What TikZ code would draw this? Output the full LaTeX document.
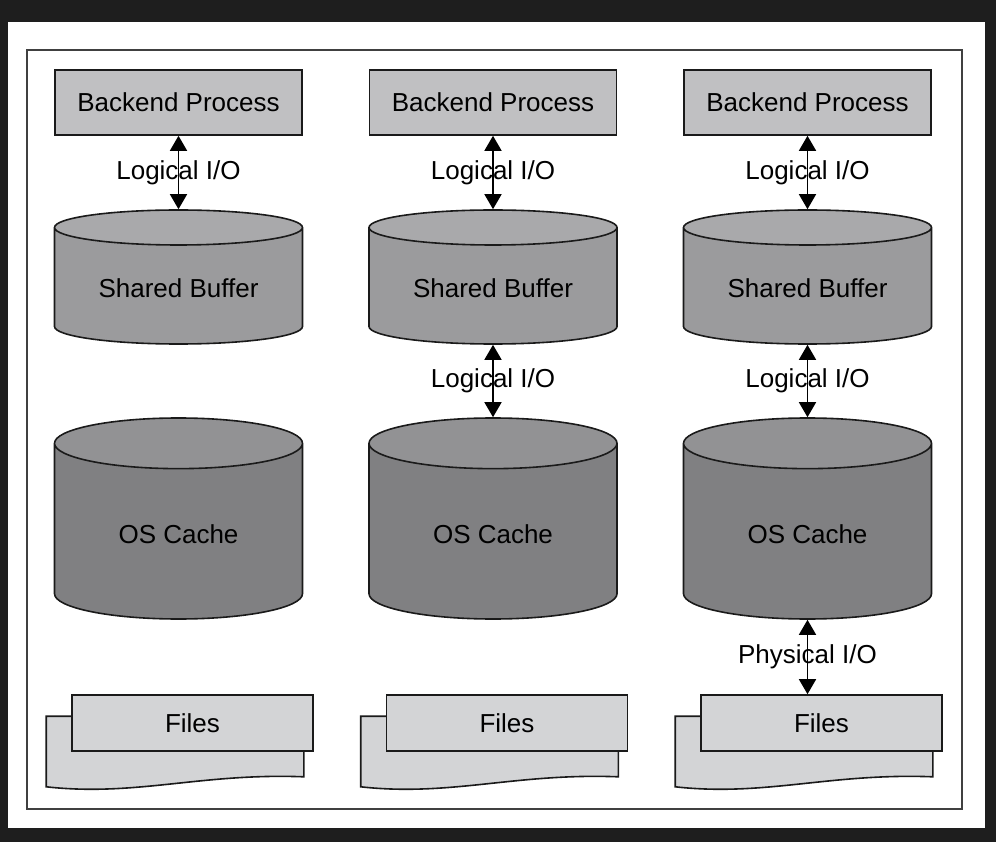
\documentclass[tikz,border=0pt]{standalone}
\usepackage{fontspec}
\setmainfont{Liberation Sans}
\usetikzlibrary{shapes.geometric,arrows.meta,backgrounds}

\definecolor{darkbg}{HTML}{1E1E1E}
\definecolor{linegray}{HTML}{1A1A1A}
\definecolor{procfill}{HTML}{C0C0C2}
\definecolor{buffill}{HTML}{9B9B9D}
\definecolor{buftop}{HTML}{A9A9AB}
\definecolor{cachefill}{HTML}{808082}
\definecolor{cachetop}{HTML}{929294}
\definecolor{filefill}{HTML}{D3D4D6}

\begin{document}
\begin{tikzpicture}[x=1pt, y=-1pt, >={Triangle[width=17pt,length=15pt]},
    font=\fontsize{26}{30}\selectfont,
    proc/.style = {draw=linegray, line width=1.6pt, fill=procfill, minimum width=247pt, minimum height=65pt},
    buf/.style = {draw=linegray, line width=1.6pt, cylinder, shape border rotate=90, aspect=0.21,
      cylinder uses custom fill, cylinder body fill=buffill, cylinder end fill=buftop,
      minimum width=248pt, minimum height=134pt, anchor=shape center},
    cache/.style = {buf, aspect=0.4, cylinder body fill=cachefill, cylinder end fill=cachetop, minimum height=201pt},
    file/.style = {draw=linegray, line width=1.6pt, fill=filefill, minimum width=241pt, minimum height=56pt},
    sheet/.style = {draw=linegray, line width=1.6pt, fill=filefill},
    io/.style = {<->, black, line width=1.6pt}]

  \begin{pgfonlayer}{background}
    \fill[darkbg] (0,0) rectangle (996,842);
    \fill[white] (8,22) rectangle (985,828);
    \draw[black!75, line width=1.4pt] (27,50) rectangle (962,809);
  \end{pgfonlayer}

  % left column
  \node[proc] (bp1) at (178.5,102.5) {Backend Process};
  \node[buf] (sb1) at (178.5,277) {Shared Buffer};
  \node[cache] (oc1) at (178.5,518.5) {OS Cache};
  \node[file] (f1) at (192.5,723) {Files};
  \draw[io] (bp1.south) -- node (lio1) {Logical I/O} (sb1.north);

  % middle column
  \node[proc] (bp2) at (493,102.5) {Backend Process};
  \node[buf] (sb2) at (493,277) {Shared Buffer};
  \node[cache] (oc2) at (493,518.5) {OS Cache};
  \node[file] (f2) at (507,723) {Files};
  \draw[io] (bp2.south) -- node (lio2) {Logical I/O} (sb2.north);
  \draw[io] (sb2.south) -- node (lio3) {Logical I/O} (oc2.north);

  % right column
  \node[proc] (bp3) at (807.5,102.5) {Backend Process};
  \node[buf] (sb3) at (807.5,277) {Shared Buffer};
  \node[cache] (oc3) at (807.5,518.5) {OS Cache};
  \node[file] (f3) at (821.5,723) {Files};
  \draw[io] (bp3.south) -- node (lio4) {Logical I/O} (sb3.north);
  \draw[io] (sb3.south) -- node (lio5) {Logical I/O} (oc3.north);
  \draw[io] (oc3.south) -- node (pio) {Physical I/O} (oc3.south |- f3.north);

  % sheets behind the files
  \begin{pgfonlayer}{background}
    \draw[sheet] ([shift={(-25,22)}]f1.north west) -| ([shift={(-10,25)}]f1.south east)
      .. controls +(-103,-4) and +(90,10) .. ([shift={(-25,35)}]f1.south west) -- cycle;
    \draw[sheet] ([shift={(-25,22)}]f2.north west) -| ([shift={(-10,25)}]f2.south east)
      .. controls +(-103,-4) and +(90,10) .. ([shift={(-25,35)}]f2.south west) -- cycle;
    \draw[sheet] ([shift={(-25,22)}]f3.north west) -| ([shift={(-10,25)}]f3.south east)
      .. controls +(-103,-4) and +(90,10) .. ([shift={(-25,35)}]f3.south west) -- cycle;
  \end{pgfonlayer}
\end{tikzpicture}
\end{document}
